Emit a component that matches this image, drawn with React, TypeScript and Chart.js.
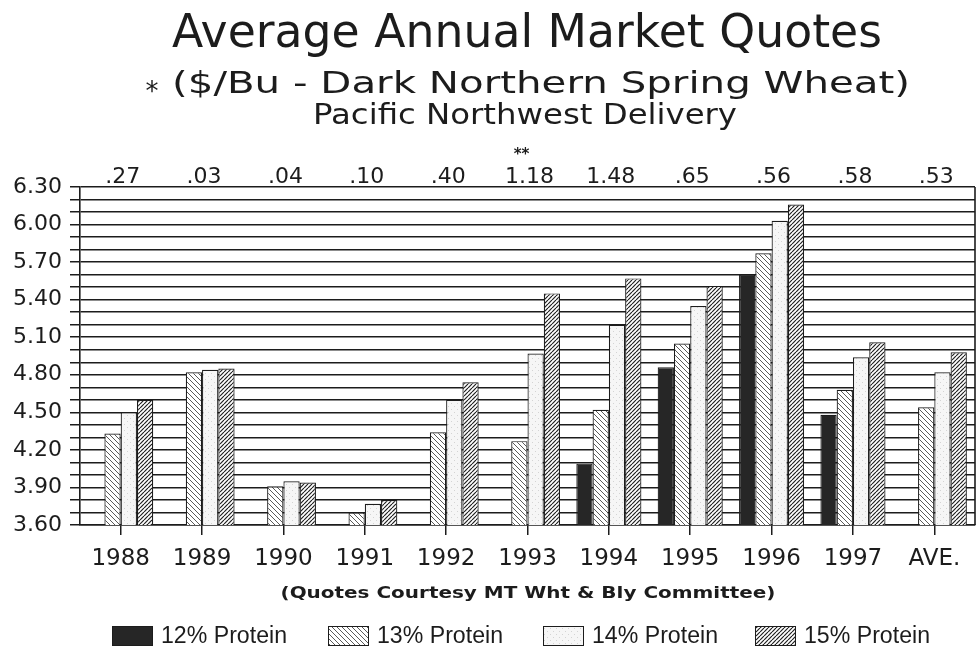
import React, { useEffect, useRef } from 'react';
import { Chart, registerables } from 'chart.js';

Chart.register(...registerables);

// ---------- data ----------
const categories = ['1988', '1989', '1990', '1991', '1992', '1993', '1994', '1995', '1996', '1997', 'AVE.'];
const protein12 = [null, null, null, null, null, null, 4.09, 4.86, 5.6, 4.48, null];
const protein13 = [4.33, 4.82, 3.91, 3.7, 4.34, 4.27, 4.52, 5.05, 5.77, 4.68, 4.54];
const protein14 = [4.5, 4.84, 3.95, 3.77, 4.6, 4.97, 5.2, 5.35, 6.03, 4.94, 4.82];
const protein15 = [4.6, 4.85, 3.94, 3.8, 4.74, 5.45, 5.57, 5.51, 6.16, 5.06, 4.98];
const spreadLabels = ['.27', '.03', '.04', '.10', '.40', '1.18', '1.48', '.65', '.56', '.58', '.53'];
const footnoteIndex = 5;
const footnoteMark = '**';
const seriesNames = ['12% Protein', '13% Protein', '14% Protein', '15% Protein'];
const yMin = 3.6;
const yMax = 6.3;
const yStep = 0.1;
const titleMain = 'Average Annual Market Quotes';
const titleSub = '($/Bu - Dark Northern Spring Wheat)';
const titleSubMark = '*';
const titleThird = 'Pacific Northwest Delivery';
const courtesy = '(Quotes Courtesy MT Wht & Bly Committee)';

const INK = '#1c1c1c';
const W = 977;
const H = 661;

function makePattern(kind: string): CanvasPattern | string {
  const c = document.createElement('canvas');
  const ctx = c.getContext('2d');
  if (!ctx) return '#fff';
  if (kind === 'back') {
    const s = 5;
    c.width = s; c.height = s;
    ctx.fillStyle = '#ffffff';
    ctx.fillRect(0, 0, s, s);
    ctx.strokeStyle = '#5a5a5a';
    ctx.lineWidth = 1;
    for (const k of [-s, 0, s]) {
      ctx.beginPath(); ctx.moveTo(k, 0); ctx.lineTo(k + s, s); ctx.stroke();
    }
  } else if (kind === 'fwd') {
    const s = 4;
    c.width = s; c.height = s;
    ctx.fillStyle = '#ffffff';
    ctx.fillRect(0, 0, s, s);
    ctx.strokeStyle = '#222222';
    ctx.lineWidth = 1.2;
    for (const k of [-s, 0, s]) {
      ctx.beginPath(); ctx.moveTo(k, s); ctx.lineTo(k + s, 0); ctx.stroke();
    }
  } else {
    const s = 6;
    c.width = s; c.height = s;
    ctx.fillStyle = '#f6f6f6';
    ctx.fillRect(0, 0, s, s);
    ctx.fillStyle = '#d4d4d4';
    ctx.fillRect(1, 1, 1, 1);
    ctx.fillRect(4, 4, 1, 1);
  }
  return ctx.createPattern(c, 'repeat') || '#fff';
}

function fitText(ctx: CanvasRenderingContext2D, text: string, x: number, y: number, font: string, width: number, align: 'center' | 'left' = 'center') {
  ctx.save();
  ctx.font = font;
  ctx.textAlign = align;
  const w = ctx.measureText(text).width;
  ctx.translate(x, y);
  ctx.scale(width / w, 1);
  ctx.fillText(text, 0, 0);
  ctx.restore();
}

export default function App() {
  const ref = useRef<HTMLCanvasElement | null>(null);

  useEffect(() => {
    document.body.style.margin = '0';
    const canvas = ref.current;
    if (!canvas) return;
    const fills = ['#262626', makePattern('back'), makePattern('dots'), makePattern('fwd')];
    const series = [protein12, protein13, protein14, protein15];

    const decor = {
      id: 'decor',
      afterDraw(chart: any) {
        const { ctx, chartArea, scales } = chart;
        ctx.save();
        // right frame line
        ctx.strokeStyle = INK;
        ctx.lineWidth = 1.6;
        ctx.beginPath();
        ctx.moveTo(chartArea.right, chartArea.top);
        ctx.lineTo(chartArea.right, chartArea.bottom);
        ctx.stroke();

        ctx.fillStyle = INK;
        ctx.textBaseline = 'alphabetic';
        // titles
        fitText(ctx, titleMain, 527, 47, '46px "DejaVu Sans"', 710);
        fitText(ctx, titleSub, 541, 93, '31px "DejaVu Sans"', 738);
        ctx.font = '26px "DejaVu Sans"';
        ctx.textAlign = 'center';
        ctx.fillText(titleSubMark, 152, 100);
        fitText(ctx, titleThird, 525, 124, '28px "DejaVu Sans"', 424);

        // spread labels above each category
        ctx.font = '22px "DejaVu Sans"';
        ctx.textAlign = 'center';
        spreadLabels.forEach((t, i) => {
          ctx.fillText(t, scales.x.getPixelForValue(i) + 2, chartArea.top - 4);
        });
        ctx.font = 'bold 15px "DejaVu Sans"';
        ctx.fillText(footnoteMark, scales.x.getPixelForValue(footnoteIndex) - 6, chartArea.top - 28);

        // courtesy line
        fitText(ctx, courtesy, 528, 598, 'bold 16px "DejaVu Sans"', 495);

        // legend
        const boxX = [112, 328, 543, 755];
        const boxY = 626;
        ctx.textBaseline = 'middle';
        seriesNames.forEach((name, i) => {
          ctx.fillStyle = fills[i];
          ctx.fillRect(boxX[i], boxY, 41, 20);
          ctx.strokeStyle = INK;
          ctx.lineWidth = 1;
          ctx.strokeRect(boxX[i] + 0.5, boxY + 0.5, 40, 19);
          ctx.fillStyle = INK;
          fitText(ctx, name, boxX[i] + 49, boxY + 11, '23px "Liberation Sans"', 126, 'left');
        });
        ctx.restore();
      },
    };

    const chart = new Chart(canvas, {
      type: 'bar',
      data: {
        labels: categories,
        datasets: seriesNames.map((name, i) => ({
          label: name,
          data: series[i],
          backgroundColor: fills[i],
          borderColor: INK,
          borderWidth: 1.2,
          categoryPercentage: 0.8,
          barPercentage: 1.0,
        })),
      },
      options: {
        responsive: false,
        animation: false,
        devicePixelRatio: 1,
        layout: { padding: { top: 187, right: 2, left: 0, bottom: 0 } },
        plugins: {
          legend: { display: false },
          tooltip: { enabled: false },
          title: { display: false },
        },
        scales: {
          x: {
            afterFit: (s: any) => { s.height = H - 525; },
            grid: {
              display: true,
              drawOnChartArea: false,
              drawTicks: true,
              tickLength: 10,
              offset: false,
              color: INK,
              lineWidth: 1.5,
            },
            border: { display: true, color: INK, width: 1.6 },
            ticks: {
              color: INK,
              font: { family: '"DejaVu Sans"', size: 23 },
              padding: 10,
              maxRotation: 0,
              autoSkip: false,
            },
          },
          y: {
            min: yMin,
            max: yMax,
            afterFit: (s: any) => { s.width = 80; },
            grid: {
              color: INK,
              lineWidth: 1.5,
              drawTicks: true,
              tickLength: 10,
            },
            border: { display: true, color: INK, width: 1.6 },
            ticks: {
              stepSize: yStep,
              maxTicksLimit: 40,
              autoSkip: false,
              color: INK,
              padding: 8,
              font: { family: '"DejaVu Sans"', size: 22 },
              callback: (v: any) => {
                const n = Math.round(Number(v) * 10);
                return n % 3 === 0 ? (n / 10).toFixed(2) : '';
              },
            },
          },
        },
      },
      plugins: [decor],
    } as any);

    return () => chart.destroy();
  }, []);

  return (
    <div style={{ width: W, height: H, background: '#fff' }}>
      <canvas ref={ref} width={W} height={H} />
    </div>
  );
}
